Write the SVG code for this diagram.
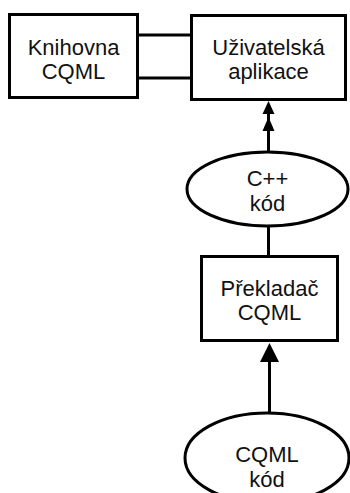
<svg xmlns="http://www.w3.org/2000/svg" width="350" height="493" viewBox="0 0 350 493">
<style>
.box{fill:#fff;stroke:#000;stroke-width:3}
.ell{fill:#fff;stroke:#000;stroke-width:3}
.ln{fill:none;stroke:#000;stroke-width:3}
.ah{fill:#000;stroke:none}
text{font-family:"Liberation Sans",Arial,sans-serif;font-size:22px;fill:#111;text-anchor:middle}
</style>
<rect width="350" height="493" fill="#fff"/>
<g id="connectors">
<line class="ln" x1="138" y1="35" x2="191" y2="35"/>
<line class="ln" x1="138" y1="78" x2="191" y2="78"/>
<line class="ln" x1="268.5" y1="152" x2="268.5" y2="112"/>
<polygon class="ah" points="268.5,101 262.5,114 274.5,114"/>
<polygon class="ah" points="268.5,117 262.5,131 274.5,131"/>
<line class="ln" x1="268.5" y1="226" x2="268.5" y2="256"/>
<line class="ln" x1="269.5" y1="413" x2="269.5" y2="358"/>
<polygon class="ah" points="269.5,343 260,362 279,362"/>
</g>
<g id="knihovna">
<rect class="box" x="9.5" y="14.5" width="128" height="83"/>
<text x="73.5" y="55">Knihovna</text>
<text x="73.5" y="79">CQML</text>
</g>
<g id="uzivatelska">
<rect class="box" x="191.5" y="15.5" width="154" height="84"/>
<text x="268.5" y="55">Uživatelská</text>
<text x="268.5" y="79">aplikace</text>
</g>
<g id="cpp">
<ellipse class="ell" cx="267.5" cy="189" rx="80.5" ry="37"/>
<text x="267.5" y="186">C++</text>
<text x="267.5" y="211">kód</text>
</g>
<g id="prekladac">
<rect class="box" x="201.5" y="256.5" width="136" height="84"/>
<text x="269.5" y="296">Překladač</text>
<text x="269.5" y="320">CQML</text>
</g>
<g id="cqml">
<ellipse class="ell" cx="267" cy="458" rx="82" ry="45"/>
<text x="267" y="462">CQML</text>
<text x="267" y="487">kód</text>
</g>
</svg>
